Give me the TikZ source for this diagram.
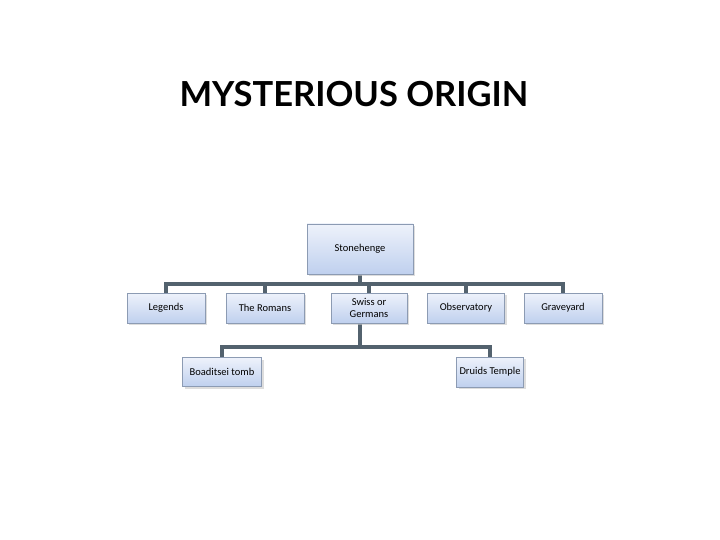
\documentclass[tikz,border=0pt]{standalone}
\usepackage{fontspec}
\setmainfont{Carlito}
\newfontfamily\titlefont{Lato}
\usetikzlibrary{shadows,backgrounds}
\definecolor{boxtop}{HTML}{EEF2FB}
\definecolor{boxbot}{HTML}{BFD0EE}
\definecolor{boxline}{HTML}{8C9BB3}
\definecolor{conn}{HTML}{53626E}
\tikzset{
  orgbox/.style={draw=boxline, line width=0.8pt, top color=boxtop, bottom color=boxbot,
    minimum height=30pt, inner sep=1pt, align=center,
    font=\fontsize{10.5}{11.5}\selectfont,
    drop shadow={shadow xshift=2pt, shadow yshift=-2pt, fill=black!22, opacity=0.6}},
  link/.style={draw=conn, line width=3.1pt}
}
\begin{document}
\begin{tikzpicture}[x=1pt,y=-1pt]
\useasboundingbox (0,0) rectangle (720,540);
\node[font=\titlefont\bfseries\fontsize{34.5}{38}\selectfont] (title) at (354,94) {MYSTERIOUS ORIGIN};
\coordinate (bus) at (0,284);
\coordinate (lowbus) at (0,347);
\node[orgbox, minimum width=106pt, minimum height=50pt] (stone) at (360,249) {Stonehenge};
\node[orgbox, minimum width=78pt] (legends) at (166,308) {Legends};
\node[orgbox, minimum width=78pt] (romans) at (265,308) {The Romans};
\node[orgbox, minimum width=76pt] (swiss) at (369,308) {Swiss or\\Germans};
\node[orgbox, minimum width=77pt] (obs) at (466,308) {Observatory};
\node[orgbox, minimum width=78pt] (grave) at (563,308) {Graveyard};
\node[orgbox, minimum width=79pt, minimum height=29pt] (boad) at (222,372) {Boaditsei tomb};
\node[orgbox, minimum width=67pt] (druids) at (490,372) {Druids Temple};
\begin{scope}[on background layer]
\fill[white] (0,0) rectangle (720,540);
\path[link] (stone.south) -- (stone.south |- bus);
\path[link] (legends.north) -- (legends.north |- bus) -| (grave.north);
\path[link] (romans.north) -- (romans.north |- bus);
\path[link] (swiss.north) -- (swiss.north |- bus);
\path[link] (obs.north) -- (obs.north |- bus);
\path[link] (swiss.south -| stone.south) -- (stone.south |- lowbus);
\path[link] (boad.north) -- (boad.north |- lowbus) -| (druids.north);
\end{scope}
\end{tikzpicture}
\end{document}
